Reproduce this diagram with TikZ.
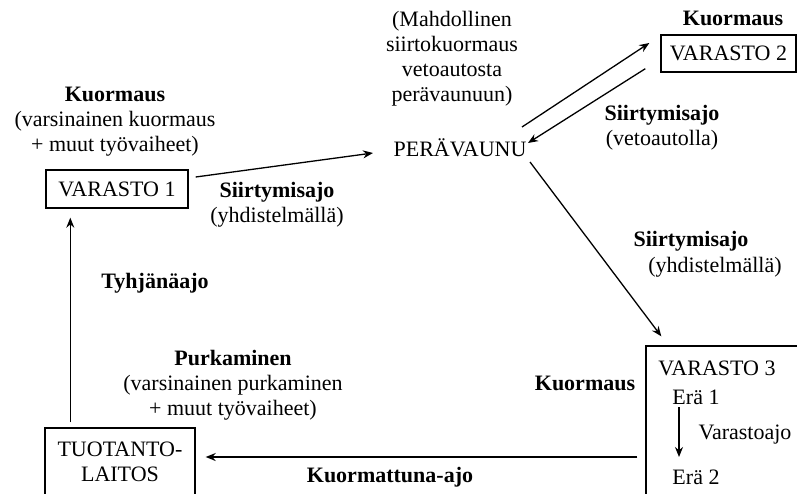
\documentclass[tikz,border=0pt]{standalone}
\usepackage{fontspec}
\setmainfont{Liberation Serif}
\usetikzlibrary{arrows.meta}

\begin{document}
\begin{tikzpicture}[x=0.5pt,y=-0.5pt,
        every node/.style={font=\fontsize{11}{12.5}\selectfont, align=center, inner sep=1pt},
        box/.style={draw=black, line width=0.7pt, inner sep=0pt},
        arr/.style={-{Stealth[length=5pt,width=4pt]}, line width=0.65pt}]
        \useasboundingbox (0,0) rectangle (797,493);
        \clip (0,0) rectangle (797,493);

        % places
        \node[box, minimum width=71pt, minimum height=19pt] (V1) at (117,189) {VARASTO 1};
        \node[box, minimum width=67.5pt, minimum height=18.5pt] (V2) at (728.5,53.5) {VARASTO 2};
        \node[box, minimum width=102pt, minimum height=111pt] (V3) at (748,457) {};
        \node[box, minimum width=75pt, minimum height=34pt] (TL) at (120,462) {TUOTANTO-\\LAITOS};
        \node (PV) at (460,148) {PERÄVAUNU};

        % inside VARASTO 3
        \node (V3t) at (717,368) {VARASTO 3};
        \node (E1) at (696,397) {Erä 1};
        \node (E2) at (696,477) {Erä 2};
        \node (VA) at (745,435) {Varastoajo};

        % labels
        \node (K1) at (115,122) {\textbf{Kuormaus}\\(varsinainen kuormaus\\+ muut työvaiheet)};
        \node (MS) at (452,59) {(Mahdollinen\\siirtokuormaus\\vetoautosta\\perävaunuun)};
        \node (K2) at (733,18) {\textbf{Kuormaus}};
        \node (S2) at (662,128) {\textbf{Siirtymisajo}\\(vetoautolla)};
        \node (S1) at (277,205) {\textbf{Siirtymisajo}\\(yhdistelmällä)};
        \node (S3a) at (691,241) {\textbf{Siirtymisajo}};
        \node (S3b) at (715,267) {(yhdistelmällä)};
        \node (K3) at (585,383) {\textbf{Kuormaus}};
        \node (TA) at (155,283) {\textbf{Tyhjänäajo}};
        \node (PK) at (233,385) {\textbf{Purkaminen}\\(varsinainen purkaminen\\+ muut työvaiheet)};
        \node (KA) at (390,477) {\textbf{Kuormattuna-ajo}};

        % routes
        \path [arr] ([shift={(7,-12)}]V1.east) edge ([shift={(-87,5)}]PV.center);
        \path [arr] ([shift={(62,-21)}]PV.center) edge ([shift={(-11,-10.5)}]V2.west);
        \path [arr] ([shift={(-15,-4)}]V2.south west) edge ([shift={(68,-5)}]PV.center);
        \path [arr] ([shift={(70,14)}]PV.center) edge ([shift={(16,-9)}]V3.north west);
        \path [arr] ([shift={(-8,0)}]V3.west) edge ([shift={(10,-5)}]TL.east);
        \path [arr] ([shift={(26,-5)}]TL.north west) edge ([shift={(25,9)}]V1.south west);
        \path [arr] ([shift={(-17,10)}]E1.center) edge ([shift={(-17,-20)}]E2.center);
    \end{tikzpicture}
\end{document}
